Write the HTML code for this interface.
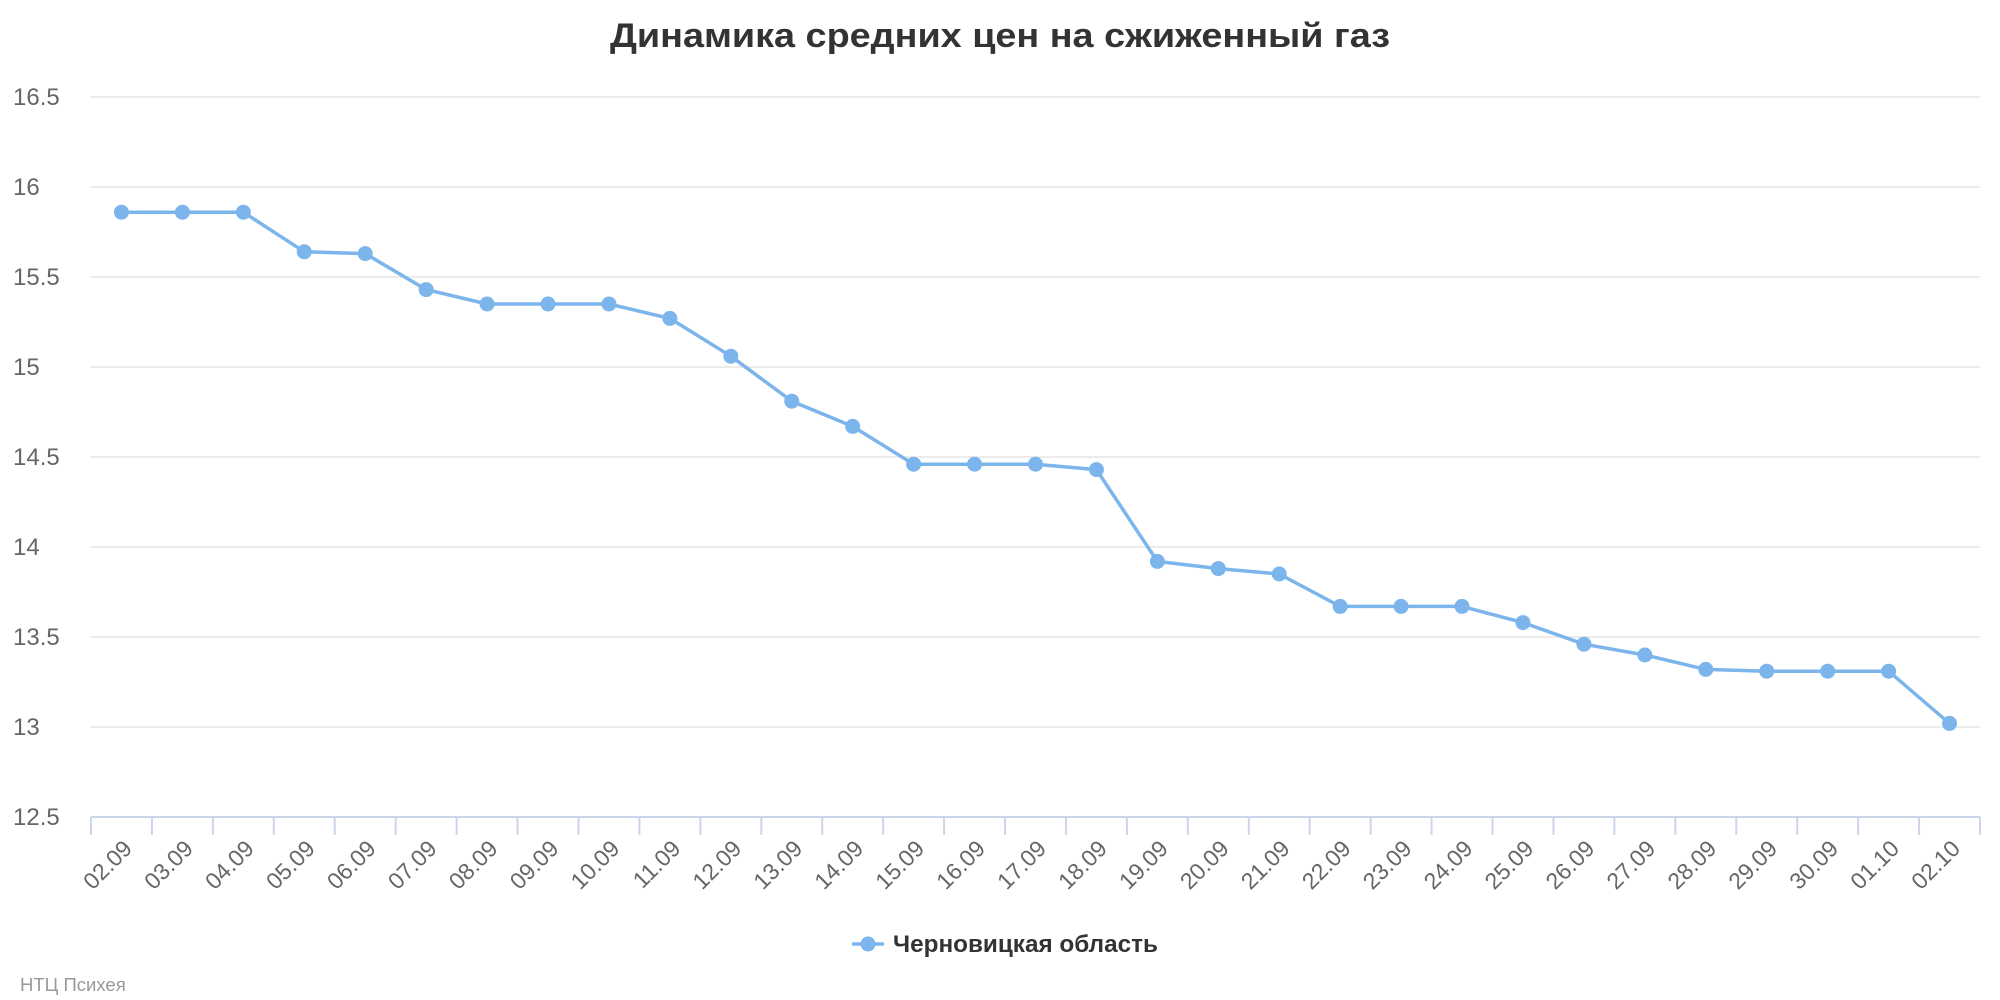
<!DOCTYPE html>
<html><head><meta charset="utf-8"><style>
html,body{margin:0;padding:0;background:#fff;}
svg{display:block;font-family:"Liberation Sans","DejaVu Sans",sans-serif;}
</style></head><body>
<svg id="c" width="2000" height="1000" xmlns="http://www.w3.org/2000/svg"></svg>
<script>
const s=document.getElementById('c');
const d=[15.86,15.86,15.86,15.64,15.63,15.43,15.35,15.35,15.35,15.27,15.06,14.81,14.67,14.46,14.46,14.46,14.43,13.92,13.88,13.85,13.67,13.67,13.67,13.58,13.46,13.40,13.32,13.31,13.31,13.31,13.02];
const L=['02.09','03.09','04.09','05.09','06.09','07.09','08.09','09.09','10.09','11.09','12.09','13.09','14.09','15.09','16.09','17.09','18.09','19.09','20.09','21.09','22.09','23.09','24.09','25.09','26.09','27.09','28.09','29.09','30.09','01.10','02.10'];
const x0=91,x1=1980,w=(x1-x0)/31;
const Y=v=>817-(v-12.5)*180;
let h='';
h+='<text x="1000" y="47" text-anchor="middle" font-size="34" font-weight="bold" fill="#333" textLength="780" lengthAdjust="spacingAndGlyphs">Динамика средних цен на сжиженный газ</text>';
for(let i=1;i<=8;i++){const v=12.5+i*0.5,y=Y(v);
h+=`<line x1="${x0}" x2="${x1}" y1="${y}" y2="${y}" stroke="#e6e6e6" stroke-width="1.5"/>`;}
for(let i=0;i<=8;i++){const v=12.5+i*0.5,y=Y(v);
h+=`<text x="13" y="${y+8}" font-size="24" fill="#666">${v}</text>`;}
h+=`<line x1="${x0}" x2="${x1}" y1="817" y2="817" stroke="#ccd6eb" stroke-width="2"/>`;
for(let i=0;i<=31;i++){const x=x0+i*w;h+=`<line x1="${x}" x2="${x}" y1="817" y2="835" stroke="#ccd6eb" stroke-width="2"/>`;}
L.forEach((t,i)=>{const x=x0+(i+0.5)*w+12,y=850;
h+=`<text x="${x}" y="${y}" font-size="23" fill="#666" text-anchor="end" transform="rotate(-45 ${x} ${y})">${t}</text>`;});
let p=d.map((v,i)=>`${(x0+(i+0.5)*w).toFixed(1)},${Y(v).toFixed(1)}`).join(' ');
h+=`<polyline points="${p}" fill="none" stroke="#7cb5ec" stroke-width="3.5" stroke-linejoin="round"/>`;
d.forEach((v,i)=>{h+=`<circle cx="${x0+(i+0.5)*w}" cy="${Y(v)}" r="7.5" fill="#7cb5ec"/>`;});
h+='<line x1="852" x2="884" y1="944" y2="944" stroke="#7cb5ec" stroke-width="3.5"/><circle cx="868" cy="944" r="7.5" fill="#7cb5ec"/>';
h+='<text x="893" y="952" font-size="24" font-weight="bold" fill="#333" textLength="265" lengthAdjust="spacingAndGlyphs">Черновицкая область</text>';
h+='<text x="20" y="991" font-size="18.5" fill="#999">НТЦ Психея</text>';
s.innerHTML=h;
</script>
</body></html>
